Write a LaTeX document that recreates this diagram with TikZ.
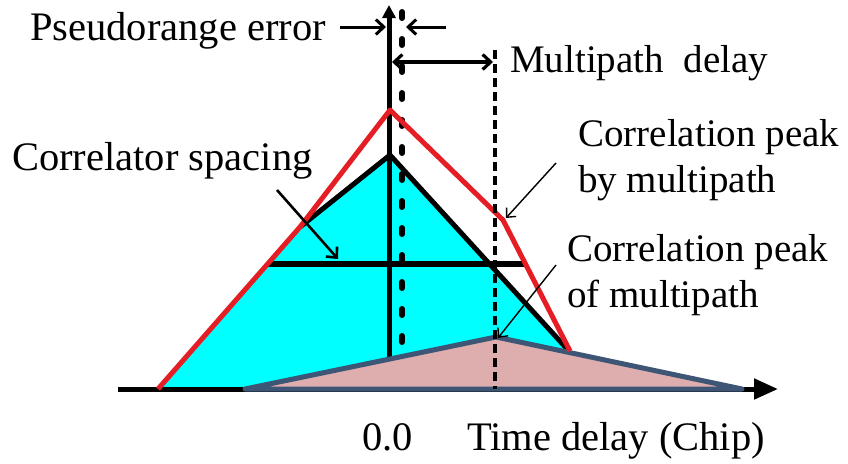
\documentclass[tikz,border=0pt]{standalone}
\usepackage{fontspec}
\newfontfamily\fa{Liberation Serif}
\usetikzlibrary{arrows.meta}
\definecolor{cyanfill}{RGB}{0,255,255}
\definecolor{redline}{RGB}{228,30,36}
\definecolor{pinkfill}{RGB}{222,174,175}
\definecolor{slateedge}{RGB}{62,86,118}
\tikzset{
  lbl/.style={font=\fa\fontsize{39}{44}\selectfont, inner sep=0pt, anchor=base west},
  lblbig/.style={font=\fa\fontsize{40.5}{46}\selectfont, inner sep=0pt, anchor=base west},
  thickblk/.style={line width=5pt, black, line join=round},
  barb/.style={-{Straight Barb[length=8pt,width=15pt]}},
  barbboth/.style={{Straight Barb[length=8pt,width=15pt]}-{Straight Barb[length=8pt,width=15pt]}},
  pointer/.style={line width=1.4pt, -{Straight Barb[length=7pt,width=13pt]}},
}
\begin{document}
\begin{tikzpicture}[x=1pt,y=-1pt]
\path[use as bounding box, fill=white] (0,0) rectangle (848,463);

% key points
\coordinate (axL) at (118,389);
\coordinate (axR) at (778,389);
\coordinate (O) at (389,389);
\coordinate (axTop) at (389,5);
\coordinate (rA) at (158,389);
\coordinate (rB) at (300,227);
\coordinate (rP) at (390,110);
\coordinate (rK) at (503,220);
\coordinate (rE) at (570,351);
\coordinate (bT) at (390,155);
\coordinate (bR) at (569,351);
\coordinate (cB) at (570,389);
\coordinate (pL) at (245,389);
\coordinate (pT) at (496,337);
\coordinate (pR) at (742,389);
\coordinate (hL) at (268,264);
\coordinate (hR) at (525,264);
\coordinate (dT) at (402,12);
\coordinate (dB) at (402,362);
\coordinate (mT) at (495,50);
\coordinate (mB) at (495,389);

% cyan region
\fill[cyanfill] (rA) -- (rB) -- (bT) -- (bR) -- (cB) -- cycle;

% axes
\draw[line width=5pt, -{Triangle[length=24pt,width=20pt]}] (axL) -- (axR);
\draw[line width=5pt, -{Triangle[length=13pt,width=13pt]}] (O) -- (axTop);

% direct correlation triangle and correlator spacing
\draw[thickblk] (rB) -- (bT) -- (bR);
\draw[line width=6pt] (hL) -- (hR);

% dotted line (pseudorange)
\draw[line width=6pt, line cap=round, dash pattern=on 6pt off 21pt] (dT) -- (dB);

% multipath correlation triangle
\filldraw[fill=pinkfill, draw=slateedge, line width=5pt, line join=round] (pL) -- (pT) -- (pR) -- cycle;

% combined correlation (red)
\draw[redline, line width=5pt, line join=round] (rA) -- (rB) -- (rP) -- (rK) -- (rE);

% multipath delay dashed line
\draw[line width=3.2pt, dash pattern=on 9pt off 5pt] (mT) -- (mB);

% pseudorange error arrows
\coordinate (peL) at (340,27);
\coordinate (peLt) at (386,27);
\coordinate (peR) at (446,27);
\coordinate (peRt) at (406,27);
\draw[line width=3pt, barb] (peL) -- (peLt);
\draw[line width=3pt, barb] (peR) -- (peRt);

% multipath delay arrow
\coordinate (mdL) at (392,62);
\coordinate (mdR) at (493,62);
\draw[line width=3.2pt, barbboth] (mdL) -- (mdR);

% labels
\node[lblbig] (tpe) at (30,40) {Pseudorange error};
\node[lbl] (tmd) at (510,72) {Multipath\ \ delay};
\node[lblbig] (tcs) at (12,170) {Correlator spacing};
\node[lbl] (tc1) at (578,146) {Correlation peak};
\node[lbl] (tc1b) at (578,192) {by multipath};
\node[lbl] (tc2) at (567,261) {Correlation peak};
\node[lbl] (tc2b) at (567,307) {of multipath};
\node[lblbig] (t00) at (362,450) {0.0};
\node[lblbig] (ttd) at (467,450) {Time delay (Chip)};

% pointers
\coordinate (csS) at (277,190);
\coordinate (csE) at (338,259);
\draw[line width=2.6pt, -{Straight Barb[length=8pt,width=15pt]}] (csS) -- (csE);
\coordinate (bmS) at (556,163);
\coordinate (bmE) at (506,218);
\draw[pointer] (bmS) -- (bmE);
\coordinate (omS) at (556,265);
\coordinate (omE) at (498,338);
\draw[pointer] (omS) -- (omE);
\end{tikzpicture}
\end{document}
